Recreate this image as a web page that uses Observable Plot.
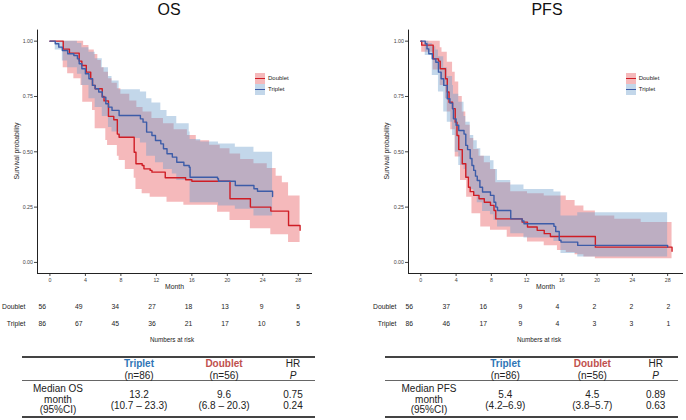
<!DOCTYPE html>
<html><head><meta charset="utf-8">
<script src="https://cdn.jsdelivr.net/npm/d3@7"></script>
<script src="https://cdn.jsdelivr.net/npm/@observablehq/plot@0.6"></script>
<style>
body{margin:0;background:#fff;font-family:"Liberation Sans",Arial,sans-serif;color:#222;}
#root{position:relative;width:686px;height:420px;overflow:hidden;background:#fff;}
.t{position:absolute;white-space:nowrap;line-height:1;}
.c{transform:translate(-50%,-50%);}
</style></head><body><div id="root"></div>
<script>
// ---------- data ----------
const monthTicks=[0,4,8,12,16,20,24,28];
const survTicks=[0,0.25,0.5,0.75,1];
const groups=["Doublet","Triplet"];

// OS Kaplan-Meier steps [month, survival]
const osDoublet=[[0,1],[1.5,0.964],[2.2,0.946],[3.3,0.91],[3.6,0.89],[4.1,0.86],[4.6,0.83],[4.8,0.80],[5.1,0.785],[5.9,0.75],[6.1,0.73],[6.6,0.66],[7.2,0.645],[7.6,0.58],[7.8,0.566],[9.5,0.498],[9.7,0.446],[10.4,0.438],[10.6,0.423],[11.3,0.416],[11.5,0.408],[13.0,0.383],[15.3,0.374],[16.0,0.367],[20.3,0.288],[22.6,0.25],[24.9,0.232],[26.9,0.167],[28.2,0.145]];
const osTriplet=[[0,1],[0.6,0.988],[1.0,0.973],[1.4,0.958],[2.0,0.943],[2.7,0.935],[3.1,0.92],[3.3,0.898],[3.6,0.875],[4.0,0.853],[4.4,0.83],[4.8,0.80],[5.1,0.785],[5.5,0.77],[5.9,0.747],[6.3,0.717],[6.6,0.702],[7.0,0.687],[7.8,0.664],[10.2,0.649],[10.5,0.634],[10.9,0.589],[11.5,0.574],[11.9,0.551],[12.5,0.536],[12.8,0.514],[13.2,0.491],[13.8,0.476],[14.3,0.453],[15.1,0.438],[15.7,0.43],[15.8,0.385],[18.9,0.378],[19.0,0.367],[20.9,0.348],[23.0,0.333],[23.4,0.322],[25.1,0.298]];
const osDoubletLo=[[0,1],[1.5,0.88],[2.0,0.853],[2.7,0.83],[3.5,0.80],[3.7,0.724],[4.8,0.687],[5.1,0.604],[6.3,0.551],[6.5,0.529],[7.6,0.48],[7.8,0.461],[8.5,0.42],[9.5,0.38],[9.7,0.33],[10.4,0.31],[11.3,0.295],[13.2,0.272],[15.1,0.258],[18.9,0.227],[20.3,0.19],[22.6,0.152],[24.9,0.125],[26.9,0.09],[28.2,0.077]];
const osDoubletHi=[[0,1],[3.8,0.98],[4.4,0.96],[5.0,0.94],[5.4,0.913],[5.8,0.88],[6.1,0.86],[6.6,0.83],[7.0,0.81],[7.6,0.785],[8.0,0.76],[9.0,0.73],[9.8,0.70],[10.5,0.68],[11.5,0.65],[12.8,0.627],[14.0,0.60],[15.5,0.574],[16.5,0.55],[18.0,0.53],[19.2,0.514],[20.3,0.49],[21.5,0.465],[23.0,0.446],[24.5,0.425],[25.5,0.39],[26.2,0.36],[26.9,0.30],[28.2,0.288]];
const osTripletLo=[[0,1],[0.6,0.96],[1.4,0.91],[2.0,0.88],[3.1,0.85],[3.6,0.80],[4.4,0.74],[5.1,0.70],[5.9,0.66],[6.6,0.61],[7.0,0.59],[7.8,0.56],[10.2,0.54],[10.9,0.48],[11.9,0.45],[12.8,0.42],[13.8,0.40],[14.3,0.37],[15.8,0.27],[19.0,0.255],[20.9,0.24],[23.0,0.21],[25.1,0.182]];
const osTripletHi=[[0,1],[3.1,0.99],[3.6,0.97],[4.4,0.95],[5.1,0.92],[5.9,0.88],[6.6,0.84],[7.0,0.82],[7.8,0.78],[10.2,0.77],[10.9,0.74],[11.5,0.72],[12.5,0.687],[13.2,0.66],[14.3,0.627],[15.7,0.589],[15.8,0.556],[17.0,0.544],[19.0,0.535],[20.9,0.521],[23.0,0.498],[25.1,0.484]];

// PFS Kaplan-Meier steps
const pfsDoublet=[[0,1],[0.1,0.982],[1.4,0.92],[2.0,0.91],[2.2,0.875],[2.8,0.83],[3.0,0.77],[3.2,0.724],[3.6,0.695],[3.9,0.634],[4.1,0.574],[4.3,0.51],[4.7,0.446],[5.1,0.385],[5.4,0.34],[5.6,0.32],[6.0,0.303],[6.6,0.288],[7.2,0.272],[7.9,0.258],[8.3,0.235],[8.5,0.197],[11.5,0.182],[12.1,0.16],[13.2,0.145],[14.0,0.13],[14.7,0.117],[19.8,0.069],[28.5,0.05]];
const pfsTriplet=[[0,1],[0.5,0.988],[0.7,0.965],[0.9,0.943],[1.3,0.92],[1.7,0.905],[2.0,0.86],[2.3,0.83],[2.6,0.80],[3.0,0.74],[3.3,0.72],[3.6,0.695],[3.7,0.649],[4.0,0.62],[4.3,0.596],[4.9,0.58],[5.1,0.529],[5.3,0.51],[5.6,0.47],[5.8,0.438],[6.0,0.416],[6.2,0.39],[6.4,0.37],[6.7,0.34],[7.0,0.318],[7.9,0.303],[8.3,0.272],[8.5,0.25],[8.7,0.235],[10.2,0.197],[11.5,0.187],[11.7,0.175],[15.1,0.163],[15.3,0.14],[15.7,0.10],[15.9,0.092],[17.8,0.077],[28.0,0.07]];
const pfsDoubletLo=[[0,1],[0.1,0.95],[1.4,0.87],[2.2,0.80],[2.8,0.74],[3.0,0.68],[3.4,0.60],[3.9,0.476],[4.5,0.37],[5.2,0.295],[5.8,0.22],[6.8,0.16],[7.9,0.145],[9.8,0.114],[12.1,0.092],[14.0,0.075],[15.5,0.054],[16.5,0.045],[17.5,0.035],[18.5,0.025],[19.8,0.017],[28.5,0.017]];
const pfsDoubletHi=[[0,1],[2.2,0.97],[2.4,0.95],[3.0,0.905],[3.6,0.86],[3.9,0.815],[4.3,0.75],[4.7,0.68],[5.1,0.62],[5.6,0.56],[6.0,0.51],[6.6,0.48],[7.2,0.45],[7.9,0.42],[8.5,0.36],[10.2,0.32],[12.1,0.31],[14.0,0.30],[15.5,0.30],[16.5,0.28],[17.5,0.255],[18.5,0.232],[19.8,0.21],[22,0.195],[25,0.18],[28.5,0.16]];
const pfsTripletLo=[[0,1],[0.5,0.935],[1.3,0.845],[2.0,0.77],[2.6,0.68],[3.0,0.634],[3.6,0.574],[3.9,0.498],[4.3,0.438],[4.9,0.42],[5.1,0.38],[5.6,0.33],[6.0,0.30],[6.4,0.27],[7.0,0.23],[7.9,0.215],[8.3,0.19],[8.7,0.16],[10.2,0.13],[11.7,0.11],[15.1,0.095],[15.9,0.04],[17.8,0.025],[28.0,0.017]];
const pfsTripletHi=[[0,1],[0.9,0.99],[1.3,0.975],[1.7,0.96],[2.0,0.93],[2.6,0.88],[3.0,0.84],[3.6,0.80],[3.7,0.76],[4.3,0.724],[4.9,0.66],[5.1,0.634],[5.6,0.574],[6.0,0.55],[6.4,0.514],[6.8,0.48],[7.9,0.46],[8.3,0.42],[8.7,0.37],[10.2,0.35],[11.7,0.33],[15.1,0.318],[15.9,0.21],[17.8,0.225],[28.0,0.225]];

// numbers at risk
const osRiskDoublet=[56,49,34,27,18,13,9,5];
const osRiskTriplet=[86,67,45,36,21,17,10,5];
const pfsRiskDoublet=[56,37,16,9,4,2,2,2];
const pfsRiskTriplet=[86,46,17,9,4,3,3,1];

// summary tables
const osTableLabel=["Median OS","month","(95%CI)"];
const osTriplet_=["13.2","(10.7 – 23.3)"];
const osDoublet_=["9.6","(6.8 – 20.3)"];
const osHR=["0.75","0.24"];
const pfsTableLabel=["Median PFS","month","(95%CI)"];
const pfsTriplet_=["5.4","(4.2–6.9)"];
const pfsDoublet_=["4.5","(3.8–5.7)"];
const pfsHR=["0.89","0.63"];
const nTriplet="(n=86)", nDoublet="(n=56)";

// ---------- styles ----------
const RED="#cf1d25", BLUE="#3d5ca8";
const RED_FILL="#e8595d", BLUE_FILL="#6fa0cc", FILL_OP=0.42;

function stepVal(pairs,t){let v=pairs[0][1];for(const [tt,vv] of pairs){if(tt<=t+1e-9)v=vv;else break;}return v;}
function band(lo,hi){const ts=[...new Set([...lo.map(d=>d[0]),...hi.map(d=>d[0])])].sort((a,b)=>a-b);return ts.map(t=>({t,lo:stepVal(lo,t),hi:stepVal(hi,t)}));}
function pts(a){return a.map(([t,s])=>({t,s}));}

const root=document.getElementById("root");
function txt(parent,s,x,y,css,center=true){const d=document.createElement("div");d.className="t"+(center?" c":"");d.textContent=s;d.style.left=x+"px";d.style.top=y+"px";if(css)d.style.cssText+=css;parent.appendChild(d);return d;}
function hline(parent,x1,x2,y,w,col){const d=document.createElement("div");d.style.cssText=`position:absolute;left:${x1}px;width:${x2-x1}px;top:${y-w/2}px;height:${w}px;background:${col};`;parent.appendChild(d);}

function panel(cfg){
  const p=document.createElement("div");
  p.style.cssText=`position:absolute;left:${cfg.left}px;top:0;width:343px;height:420px;`;
  root.appendChild(p);
  txt(p,cfg.title,cfg.titleX,9.5,"font-size:16px;color:#111;");

  const main=Plot.plot({
    width:343,height:295,
    marginLeft:cfg.frameL,marginRight:343-cfg.frameR,marginTop:29.6,marginBottom:22,
    x:{domain:cfg.xDomain,ticks:monthTicks,tickSize:3,tickPadding:2,label:null},
    y:{domain:[-0.05,1.05],ticks:survTicks,tickFormat:d=>d.toFixed(2),tickSize:3,tickPadding:1.5,label:null},
    style:{fontFamily:"Liberation Sans, Arial, sans-serif",fontSize:"5.3px",color:"#444",background:"transparent",overflow:"visible"},
    marks:[
      Plot.areaY(band(cfg.dLo,cfg.dHi),{x:"t",y1:"lo",y2:"hi",curve:"step-after",fill:RED_FILL,fillOpacity:FILL_OP}),
      Plot.areaY(band(cfg.tLo,cfg.tHi),{x:"t",y1:"lo",y2:"hi",curve:"step-after",fill:BLUE_FILL,fillOpacity:FILL_OP}),
      Plot.line(pts(cfg.d),{x:"t",y:"s",curve:"step-after",stroke:RED,strokeWidth:1.4}),
      Plot.line(pts(cfg.tr),{x:"t",y:"s",curve:"step-after",stroke:BLUE,strokeWidth:1.4}),
      Plot.ruleX([cfg.xDomain[0]],{stroke:"#222",strokeWidth:1}),
      Plot.ruleY([-0.05],{stroke:"#222",strokeWidth:1})
    ]
  });
  main.style.cssText+="position:absolute;left:0;top:0;";
  p.appendChild(main);

  txt(p,"Survival probability",cfg.yLabX,151.3,"font-size:6.8px;transform:translate(-50%,-50%) rotate(-90deg);");
  txt(p,"Month",(cfg.frameL+cfg.frameR)/2,287,"font-size:6.8px;");

  // legend
  [["Doublet",RED,RED_FILL,78.3],["Triplet",BLUE,BLUE_FILL,89.3]].forEach(([g,c,f,y])=>{
    const s=document.createElement("div");
    s.style.cssText=`position:absolute;left:${cfg.legX}px;top:${y-5.3}px;width:10px;height:10.6px;background:${f};opacity:${FILL_OP};`;
    p.appendChild(s);
    const l=document.createElement("div");
    l.style.cssText=`position:absolute;left:${cfg.legX}px;top:${y-0.7}px;width:10px;height:1.4px;background:${c};`;
    p.appendChild(l);
    txt(p,g,cfg.legX+13,y,"font-size:6px;transform:translateY(-50%);",false);
  });

  // numbers at risk
  const rows=[];
  monthTicks.forEach((m,i)=>{rows.push({t:m,g:"Doublet",n:cfg.rd[i]});rows.push({t:m,g:"Triplet",n:cfg.rt[i]});});
  const risk=Plot.plot({
    width:343,height:52,marginLeft:cfg.riskML,marginRight:0,marginTop:0,marginBottom:0,
    x:{domain:[0,28],range:cfg.riskRange,axis:null},
    y:{type:"point",domain:groups,range:[11,28],padding:0,tickSize:0,tickPadding:3,label:null},
    style:{fontFamily:"Liberation Sans, Arial, sans-serif",fontSize:"6.8px",color:"#222",background:"transparent",overflow:"visible"},
    marks:[Plot.text(rows,{x:"t",y:"g",text:"n",fill:"#222"})]
  });
  risk.style.cssText+="position:absolute;left:0;top:295px;";
  p.appendChild(risk);
  txt(p,"Numbers at risk",cfg.narX,339.5,"font-size:6.3px;");

  // summary table
  const T=cfg.tab;
  hline(p,T.l,T.r,357,1.5,"#444");
  hline(p,T.l,T.r,380.5,0.9,"#666");
  hline(p,T.l,T.r,417,1.5,"#444");
  const f="font-size:10px;color:#222;";
  txt(p,"Triplet",T.c[1],364,"font-size:10px;font-weight:bold;color:#2e75b6;");
  txt(p,nTriplet,T.c[1],375.5,f);
  txt(p,"Doublet",T.c[2],364,"font-size:10px;font-weight:bold;color:#c0504d;");
  txt(p,nDoublet,T.c[2],375.5,f);
  txt(p,"HR",T.c[3],364,f);
  txt(p,"P",T.c[3],375.5,f+"font-style:italic;");
  cfg.lab.forEach((s,i)=>txt(p,s,T.c[0],389+i*10.5,f));
  cfg.tv.forEach((s,i)=>txt(p,s,T.c[1],395+i*10.5,f));
  cfg.dv.forEach((s,i)=>txt(p,s,T.c[2],395+i*10.5,f));
  cfg.hr.forEach((s,i)=>txt(p,s,T.c[3],395+i*10.5,f));
}

panel({left:0,title:"OS",titleX:169,frameL:37,frameR:312,xDomain:[-1.4,29.6],yLabX:16.7,legX:255,
  d:osDoublet,tr:osTriplet,dLo:osDoubletLo,dHi:osDoubletHi,tLo:osTripletLo,tHi:osTripletHi,
  rd:osRiskDoublet,rt:osRiskTriplet,riskML:28,riskRange:[41.7,297.7],narX:172,
  tab:{l:22,r:315,c:[58,139,224,293]},lab:osTableLabel,tv:osTriplet_,dv:osDoublet_,hr:osHR});
panel({left:343,title:"PFS",titleX:204,frameL:65,frameR:340,xDomain:[-1.4,29.8],yLabX:44.3,legX:282.7,
  d:pfsDoublet,tr:pfsTriplet,dLo:pfsDoubletLo,dHi:pfsDoubletHi,tLo:pfsTripletLo,tHi:pfsTripletHi,
  rd:pfsRiskDoublet,rt:pfsRiskTriplet,riskML:56,riskRange:[65.7,325],narX:196,
  tab:{l:41.7,r:335,c:[86,162.3,249.3,312.7]},lab:pfsTableLabel,tv:pfsTriplet_,dv:pfsDoublet_,hr:pfsHR});
</script></body></html>
